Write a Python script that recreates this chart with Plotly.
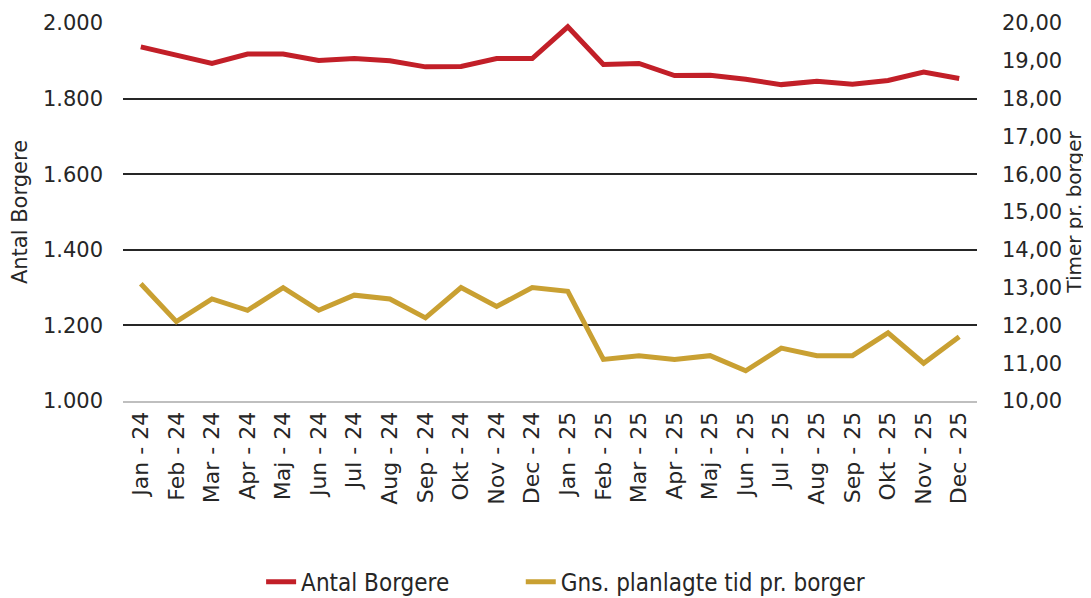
import plotly.graph_objects as go

categories = ["Jan - 24", "Feb - 24", "Mar - 24", "Apr - 24", "Maj - 24", "Jun - 24",
              "Jul - 24", "Aug - 24", "Sep - 24", "Okt - 24", "Nov - 24", "Dec - 24",
              "Jan - 25", "Feb - 25", "Mar - 25", "Apr - 25", "Maj - 25", "Jun - 25",
              "Jul - 25", "Aug - 25", "Sep - 25", "Okt - 25", "Nov - 25", "Dec - 25"]

antal_borgere = [1937, 1915, 1893, 1918, 1918, 1901, 1906, 1900, 1884, 1885, 1906, 1906,
                 1990, 1890, 1893, 1861, 1862, 1851, 1837, 1846, 1838, 1848, 1870, 1853]

gns_tid = [13.1, 12.1, 12.7, 12.4, 13.0, 12.4, 12.8, 12.7, 12.2, 13.0, 12.5, 13.0,
           12.9, 11.1, 11.2, 11.1, 11.2, 10.8, 11.4, 11.2, 11.2, 11.8, 11.0, 11.7]

left_ticks = [1000, 1200, 1400, 1600, 1800, 2000]
right_ticks = [10, 11, 12, 13, 14, 15, 16, 17, 18, 19, 20]

RED = "#C21F28"
GOLD = "#C9A032"
FONT = "DejaVu Sans"
LEGEND_FONT = dict(family="DejaVu Sans Condensed, " + FONT, size=24, color="#262626")

fig = go.Figure()
fig.add_trace(go.Scatter(x=categories, y=antal_borgere, name="Antal Borgere",
                         mode="lines", line=dict(color=RED, width=5), yaxis="y",
                         legend="legend"))
fig.add_trace(go.Scatter(x=categories, y=gns_tid, name="Gns. planlagte tid pr. borger",
                         mode="lines", line=dict(color=GOLD, width=5), yaxis="y2",
                         legend="legend2"))

fig.update_layout(
    width=1091, height=598,
    margin=dict(l=115, r=122, t=15, b=205, autoexpand=False),
    paper_bgcolor="white", plot_bgcolor="white",
    separators=",.",
    font=dict(family=FONT, size=21, color="#262626"),
    showlegend=True,
    legend=dict(orientation="h", xref="container", x=0.232, xanchor="left",
                yref="container", y=0.04, yanchor="middle",
                font=LEGEND_FONT, bgcolor="rgba(0,0,0,0)"),
    legend2=dict(orientation="h", xref="container", x=0.470, xanchor="left",
                 yref="container", y=0.04, yanchor="middle",
                 font=LEGEND_FONT, bgcolor="rgba(0,0,0,0)"),
    xaxis=dict(type="category", range=[-0.5, 23.5], tickangle=-90, showgrid=False,
               showline=True, automargin=False,
               linecolor="#BFBFBF", linewidth=2, ticks="", zeroline=False,
               ticklabelstandoff=0,
               tickfont=dict(family=FONT, size=22)),
    yaxis=dict(range=[1000, 2000], tickvals=left_ticks, tickformat=",d", automargin=False,
               showgrid=True, gridcolor="#262626", gridwidth=1.5, zeroline=False,
               showline=False, ticks="", ticklabelstandoff=19,
               title=dict(text="Antal Borgere", font=dict(size=21), standoff=9)),
    yaxis2=dict(range=[10, 20], tickvals=right_ticks, tickformat=".2f", automargin=False,
                overlaying="y", side="right", showgrid=False, zeroline=False,
                showline=False, ticks="", ticklabelstandoff=24,
                title=dict(text="Timer pr. borger", font=dict(size=20), standoff=0)),
)

fig.write_html("out.html")
